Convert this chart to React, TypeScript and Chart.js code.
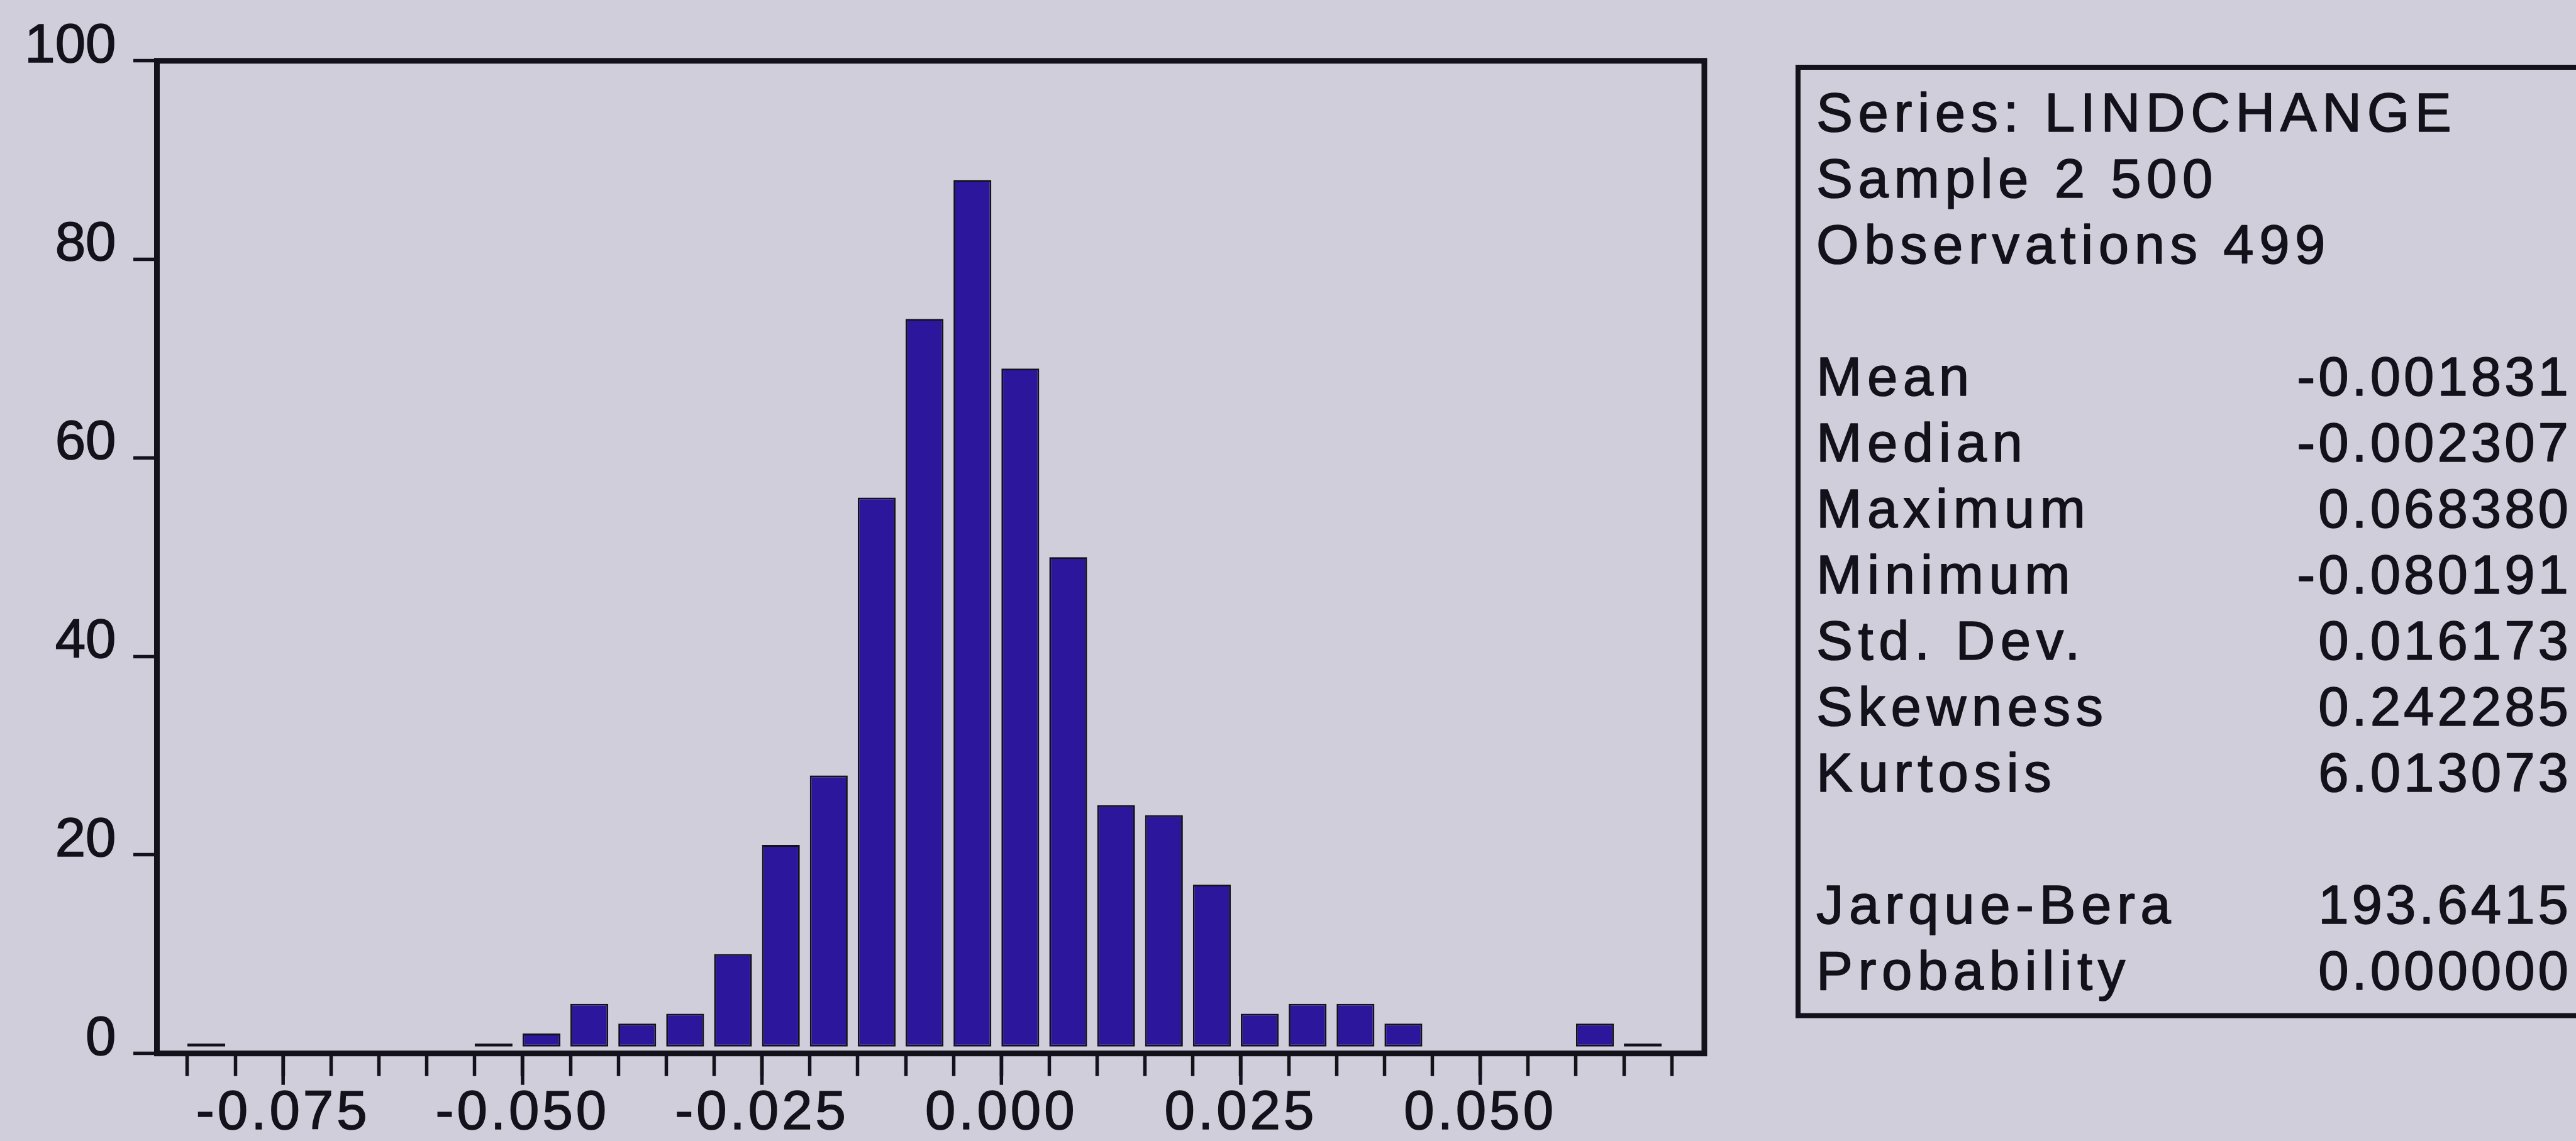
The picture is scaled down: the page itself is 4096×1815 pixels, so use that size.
import React, { useEffect, useRef } from 'react';
import { Chart, registerables } from 'chart.js';

Chart.register(...registerables);

// ---------- data ----------
const BIN_WIDTH = 0.005;
const BIN_START = [
  -0.085, -0.08, -0.075, -0.07, -0.065, -0.06, -0.055, -0.05, -0.045, -0.04, -0.035,
  -0.03, -0.025, -0.02, -0.015, -0.01, -0.005, 0.0, 0.005, 0.01, 0.015, 0.02,
  0.025, 0.03, 0.035, 0.04, 0.045, 0.05, 0.055, 0.06, 0.065,
];
const BIN_COUNT = [
  1, 0, 0, 0, 0, 0, 1, 2, 5, 3, 4,
  10, 21, 28, 56, 74, 88, 69, 50, 25, 24, 17,
  4, 5, 5, 3, 0, 0, 0, 3, 1,
];

const X_TICKS = [
  -0.085, -0.08, -0.075, -0.07, -0.065, -0.06, -0.055, -0.05, -0.045, -0.04, -0.035,
  -0.03, -0.025, -0.02, -0.015, -0.01, -0.005, 0.0, 0.005, 0.01, 0.015, 0.02,
  0.025, 0.03, 0.035, 0.04, 0.045, 0.05, 0.055, 0.06, 0.065, 0.07,
];
const X_LABELED_TICKS = [-0.075, -0.05, -0.025, 0.0, 0.025, 0.05];
const X_TICK_LABELS = ['-0.075', '-0.050', '-0.025', '0.000', '0.025', '0.050'];
const X_MIN = -0.08818;
const X_MAX = 0.0734;
const Y_MIN = 0;
const Y_MAX = 100;
const Y_STEP = 20;

const HEADER_LINES = ['Series: LINDCHANGE', 'Sample 2 500', 'Observations 499'];
const STAT_NAMES = ['Mean', 'Median', 'Maximum', 'Minimum', 'Std. Dev.', 'Skewness', 'Kurtosis'];
const STAT_VALUES = ['-0.001831', '-0.002307', '0.068380', '-0.080191', '0.016173', '0.242285', '6.013073'];
const TEST_NAMES = ['Jarque-Bera', 'Probability'];
const TEST_VALUES = ['193.6415', '0.000000'];

// ---------- style / layout ----------
const W = 4096;
const H = 1815;
const BG = '#d1cedc';
const INK = '#131119';
const BAR_FILL = '#2c169c';
const FONT_FAMILY = '"Liberation Sans", Arial, Helvetica, sans-serif';
const FONT_SIZE = 87;
const TEXT_STROKE = 1.6;
const BAR_FRACTION = 0.79;
const BAR_BASE = 0.7;

const AREA_LEFT = 249.5;
const AREA_RIGHT = 2710;
const AREA_TOP = 96.7;
const AREA_BOTTOM = 1675.7;

const FRAME_W = 9;
const TICK_W = 5.5;
const MINOR_TICK = 36;
const MAJOR_TICK = 50;

const STATS_LEFT = 2859;
const STATS_TOP = 107;
const STATS_BOTTOM = 1615.6;
const STATS_TEXT_X = 2888;
const STATS_VALUE_RIGHT = 4084;
const STATS_ROW0 = 178.3;
const STATS_ROW_STEP = 105;

const framePlugin = {
  id: 'evFrame',
  beforeDraw(chart: any) {
    chart.ctx.letterSpacing = '0px';
  },
  afterDatasetsDraw(chart: any) {
    chart.ctx.letterSpacing = '5px';
  },
  afterDraw(chart: any) {
    const { ctx, chartArea: a, scales } = chart;
    ctx.save();
    ctx.letterSpacing = '0px';
    ctx.strokeStyle = INK;
    ctx.lineCap = 'butt';

    // long ticks at labelled positions
    ctx.lineWidth = TICK_W;
    for (const v of X_LABELED_TICKS) {
      const px = scales.x.getPixelForValue(v);
      ctx.beginPath();
      ctx.moveTo(px, a.bottom);
      ctx.lineTo(px, a.bottom + MAJOR_TICK);
      ctx.stroke();
    }

    // plot frame
    ctx.lineWidth = FRAME_W;
    ctx.lineJoin = 'miter';
    ctx.strokeRect(a.left, a.top, a.right - a.left, a.bottom - a.top);

    // statistics panel
    ctx.lineWidth = 8;
    ctx.strokeRect(STATS_LEFT, STATS_TOP, W + 200 - STATS_LEFT, STATS_BOTTOM - STATS_TOP);

    ctx.fillStyle = INK;
    ctx.font = `${FONT_SIZE}px ${FONT_FAMILY}`;
    ctx.textBaseline = 'alphabetic';
    ctx.textAlign = 'left';
    ctx.lineWidth = TEXT_STROKE;
    ctx.lineJoin = 'round';
    const baseOf = (row: number) => STATS_ROW0 + row * STATS_ROW_STEP + FONT_SIZE * 0.358;

    const put = (t: string, x: number, y: number) => {
      ctx.fillText(t, x, y);
      ctx.strokeText(t, x, y);
    };
    const drawLabel = (t: string, row: number) => {
      ctx.letterSpacing = '8.5px';
      put(t, STATS_TEXT_X, baseOf(row));
    };
    const drawValue = (t: string, row: number) => {
      ctx.letterSpacing = '5px';
      const w = ctx.measureText(t).width;
      put(t, STATS_VALUE_RIGHT - w + 5, baseOf(row));
    };

    HEADER_LINES.forEach((t, i) => drawLabel(t, i));
    STAT_NAMES.forEach((t, i) => {
      drawLabel(t, 4 + i);
      drawValue(STAT_VALUES[i], 4 + i);
    });
    TEST_NAMES.forEach((t, i) => {
      drawLabel(t, 12 + i);
      drawValue(TEST_VALUES[i], 12 + i);
    });

    ctx.restore();
  },
};

export default function App() {
  const ref = useRef<HTMLCanvasElement | null>(null);

  useEffect(() => {
    const canvas = ref.current;
    if (!canvas) return;

    const points = BIN_START.map((s, i) => ({
      x: s + (BIN_WIDTH * BAR_FRACTION) / 2,
      y: BIN_COUNT[i],
    })).filter((p) => p.y > 0);

    const chart = new Chart(canvas, {
      type: 'bar',
      data: {
        datasets: [
          {
            label: 'LINDCHANGE',
            data: points as any,
            backgroundColor: BAR_FILL,
            borderColor: INK,
            borderWidth: 2.8,
            borderSkipped: false,
            base: BAR_BASE,
            barPercentage: BAR_FRACTION,
            categoryPercentage: 1,
          } as any,
        ],
      },
      options: {
        responsive: false,
        animation: false,
        devicePixelRatio: 1,
        events: [],
        layout: {
          padding: { left: 0, top: AREA_TOP, right: W - AREA_RIGHT, bottom: 0 },
        },
        plugins: {
          legend: { display: false },
          tooltip: { enabled: false },
          title: { display: false },
        },
        scales: {
          x: {
            type: 'linear',
            min: X_MIN,
            max: X_MAX,
            offset: false,
            border: { display: false },
            grid: {
              display: true,
              offset: false,
              drawOnChartArea: false,
              drawTicks: true,
              tickLength: MINOR_TICK,
              tickWidth: TICK_W,
              tickColor: INK,
            },
            ticks: {
              autoSkip: false,
              maxRotation: 0,
              minRotation: 0,
              padding: 8.5,
              color: INK,
              textStrokeColor: INK,
              textStrokeWidth: TEXT_STROKE,
              z: 1,
              font: { family: FONT_FAMILY, size: FONT_SIZE },
              callback: (value: any) => {
                const v = Number(value);
                const j = X_LABELED_TICKS.findIndex((t) => Math.abs(t - v) < 1e-9);
                return j >= 0 ? X_TICK_LABELS[j] : '';
              },
            },
            afterBuildTicks: (s: any) => {
              s.ticks = X_TICKS.map((v) => ({ value: v }));
            },
            afterFit: (s: any) => {
              s.height = H - AREA_BOTTOM;
            },
          } as any,
          y: {
            type: 'linear',
            min: Y_MIN,
            max: Y_MAX,
            border: { display: false },
            grid: {
              display: true,
              drawOnChartArea: false,
              drawTicks: true,
              tickLength: 37.5,
              tickWidth: TICK_W,
              tickColor: INK,
            },
            ticks: {
              stepSize: Y_STEP,
              padding: 27.5,
              labelOffset: -22,
              color: INK,
              textStrokeColor: INK,
              textStrokeWidth: TEXT_STROKE,
              font: { family: FONT_FAMILY, size: FONT_SIZE },
            },
            afterFit: (s: any) => {
              s.width = AREA_LEFT;
            },
          } as any,
        },
      },
      plugins: [framePlugin],
    });

    return () => chart.destroy();
  }, []);

  return (
    <div
      style={{
        position: 'fixed',
        left: 0,
        top: 0,
        width: W,
        height: H,
        background: BG,
        overflow: 'hidden',
      }}
    >
      <canvas ref={ref} width={W} height={H} style={{ display: 'block', width: W, height: H }} />
    </div>
  );
}
